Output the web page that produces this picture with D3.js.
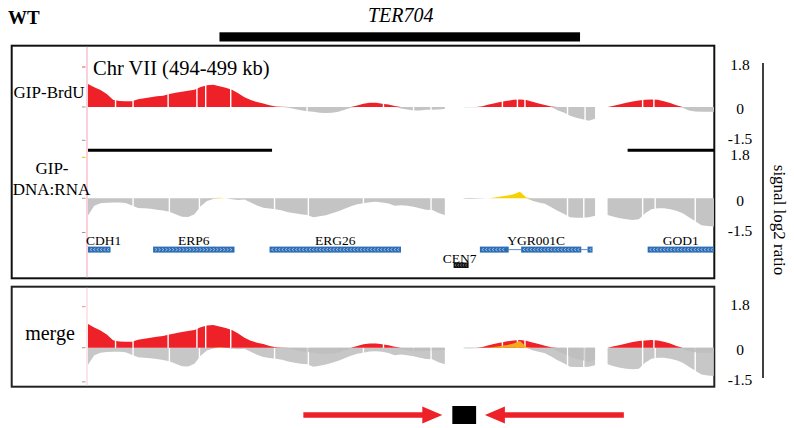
<!DOCTYPE html>
<html>
<head>
<meta charset="utf-8">
<script src="https://cdn.jsdelivr.net/npm/d3@7"></script>
<style>
  body { margin: 0; background: #fff; }
  svg { display: block; }
  text { font-family: "Liberation Serif", "Times New Roman", serif; fill: #000; }
</style>
</head>
<body>
<svg id="chart" width="794" height="428"></svg>
<script>
// ---- Data: Chr VII 494-499 kb, log2 signal ratios in 50 bp bins ----
const binStart = 494.0;   // kb
const binSize = 0.05;     // kb

const brdu = [
  1.04, 0.89, 0.76, 0.58, 0.33, 0.27, 0.26, 0.26, 0.35, 0.39,
  0.44, 0.48, 0.51, 0.58, 0.64, 0.69, 0.73, 0.78, 0.90, 0.98,
  1.00, 0.93, 0.87, 0.78, 0.62, 0.44, 0.31, 0.22, 0.16, 0.08,
  0.02, 0.01, -0.03, -0.09, -0.15, -0.19, -0.22, -0.26, -0.27, -0.26,
  -0.21, -0.12, -0.03, 0.07, 0.15, 0.19, 0.19, 0.15, 0.11, 0.04,
  -0.07, -0.11, -0.16, -0.16, -0.13, -0.13, -0.11, -0.09, null, null,
  -0.01, -0.01, -0.01, 0.03, 0.11, 0.17, 0.23, 0.28, 0.32, 0.34,
  0.31, 0.23, 0.16, 0.09, 0.02, -0.15, -0.25, -0.40, -0.49, -0.55,
  -0.62, -0.53, null, 0.00, 0.06, 0.12, 0.19, 0.25, 0.29, 0.32,
  0.34, 0.32, 0.26, 0.18, 0.08, -0.04, -0.16, -0.20, -0.22, -0.22,
  -0.22
];

const dnaRna = [
  -0.75, -0.33, -0.22, -0.19, -0.18, -0.18, -0.20, -0.31, -0.42, -0.44,
  -0.46, -0.50, -0.54, -0.59, -0.70, -0.81, -0.82, -0.70, -0.35, -0.12,
  -0.03, 0.03, 0.00, -0.04, -0.07, -0.05, -0.18, -0.31, -0.41, -0.45,
  -0.48, -0.53, -0.61, -0.66, -0.70, -0.73, -0.83, -0.79, -0.74, -0.66,
  -0.57, -0.46, -0.35, -0.26, -0.22, -0.17, -0.15, -0.18, -0.23, -0.33,
  -0.30, -0.33, -0.37, -0.44, -0.50, -0.51, -0.64, -0.73, null, null,
  -0.02, -0.03, -0.02, -0.01, 0.00, 0.04, 0.08, 0.12, 0.18, 0.29,
  0.04, -0.11, -0.18, -0.24, -0.39, -0.55, -0.68, -0.83, -0.85, -0.85,
  -0.83, -0.77, null, -0.73, -0.81, -0.88, -0.92, -0.95, -0.92, -0.66,
  -0.48, -0.44, -0.44, -0.48, -0.55, -0.66, -0.83, -1.01, -1.18, -1.22,
  -1.24
];

// Positions (kb) of missing bins, drawn as breaks in each signal
const brduGaps = [494.22, 494.36, 494.64, 494.87, 494.94, 495.14, 495.75, 496.36,
  496.60, 496.74, 497.31, 497.43, 497.49, 497.83, 497.97, 498.43, 498.52];
const dnaRnaGaps = [494.36, 494.65, 494.89, 495.49, 495.76, 496.20, 496.74,
  497.83, 497.96, 498.43, 498.53, 498.85];

// Gene annotation
const geneNames  = ["CDH1", "ERP6", "ERG26", "YGR001C", "GOD1"];
const geneStrand = ["-", "+", "-", "-", "-"];
const geneExons  = [
  [[493.90, 494.18]],
  [[494.52, 495.17]],
  [[495.45, 496.50]],
  [[497.13, 497.36], [497.46, 497.94], [497.99, 498.03]],
  [[498.47, 499.20]]
];
const cenName = "CEN7";
const cenSpan = [496.92, 497.04];

// Region annotations
const terName = "TER704";
const terSpan = [495.05, 497.93];
const markSegments = [[494.00, 495.47], [498.31, 499.00]];
const forkArrows = [[495.72, 496.83], [498.28, 497.17]];   // [tail, tip]
const terBlock = [496.91, 497.10];

const axisTicks = [1.8, 0, -1.5];
const axisTitle = "signal log2 ratio";
const regionTitle = "Chr VII (494-499 kb)";

// ---- Drawing ----
const svg = d3.select("#chart");
const defs = svg.append("defs");

const RED = "#ed2127", GRAY = "#c4c4c4", YELLOW = "#f9d000", ORANGE = "#f6a91c";
const BLUE = "#2b6cb4";

const x = d3.scaleLinear().domain([494, 499]).range([88, 714]);
const xMin = x.range()[0], xMax = x.range()[1];

const tracks = {
  brdu:   d3.scaleLinear().domain([-1.5, 1.8]).range([140.3, 67.0]),
  dnaRna: d3.scaleLinear().domain([-1.5, 1.8]).range([232.5, 157.3]),
  merge:  d3.scaleLinear().domain([-1.5, 1.8]).range([381.9, 306.7])
};

const toPoints = vals => vals.map((v, i) => ({ p: binStart + i * binSize, v }));
const brduPts = toPoints(brdu);
const dnaPts = toPoints(dnaRna);

// clip path that removes thin strips at the missing-bin positions
function gapClip(id, gaps) {
  const cp = defs.append("clipPath").attr("id", id);
  const edges = [x.domain()[0], ...gaps, x.domain()[1]];
  for (let i = 0; i < edges.length - 1; i++) {
    const a = x(edges[i]) + (i === 0 ? 0 : 0.7);
    const b = x(edges[i + 1]) - (i === edges.length - 2 ? 0 : 0.7);
    cp.append("rect").attr("x", a).attr("y", 0).attr("width", Math.max(0, b - a)).attr("height", 428);
  }
  return `url(#${id})`;
}
const brduClip = gapClip("clip-brdu", brduGaps);
const dnaClip = gapClip("clip-dna", dnaRnaGaps);

function drawArea(g, pts, y, sign, color, clip, opacity) {
  const area = d3.area()
    .defined(d => d.v !== null)
    .x(d => x(d.p))
    .y0(y(0))
    .y1(d => y(sign > 0 ? Math.max(0, d.v) : Math.min(0, d.v)));
  g.append("path")
    .datum(pts)
    .attr("d", area)
    .attr("fill", color)
    .attr("fill-opacity", opacity == null ? 1 : opacity)
    .attr("clip-path", clip);
}

// frames
svg.append("rect").attr("x", 11.7).attr("y", 45.7).attr("width", 702.6).attr("height", 232.6)
  .attr("fill", "none").attr("stroke", "#111").attr("stroke-width", 2);
svg.append("rect").attr("x", 11.7).attr("y", 286.7).attr("width", 702.6).attr("height", 100)
  .attr("fill", "none").attr("stroke", "#222").attr("stroke-width", 2);

// left edge marker
svg.append("line").attr("x1", 87).attr("x2", 87).attr("y1", 46.7).attr("y2", 277.5)
  .attr("stroke", "#f6a3b5").attr("stroke-width", 1);
svg.append("line").attr("x1", 87).attr("x2", 87).attr("y1", 287.7).attr("y2", 385.7)
  .attr("stroke", "#f9c9d3").attr("stroke-width", 1);

// GIP-BrdU track
const gB = svg.append("g");
drawArea(gB, brduPts, tracks.brdu, -1, GRAY, brduClip);
drawArea(gB, brduPts, tracks.brdu, 1, RED, brduClip);

// GIP-DNA:RNA track
const gD = svg.append("g");
drawArea(gD, dnaPts, tracks.dnaRna, -1, GRAY, dnaClip);
drawArea(gD, dnaPts, tracks.dnaRna, 1, YELLOW, dnaClip);

// merge track: both signals overlaid
const gM = svg.append("g");
drawArea(gM, dnaPts, tracks.merge, -1, "#bdbdbd", dnaClip, 0.85);
drawArea(gM, brduPts, tracks.merge, -1, "#bdbdbd", brduClip, 0.85);
drawArea(gM, brduPts, tracks.merge, 1, RED, brduClip);
drawArea(gM, dnaPts, tracks.merge, 1, ORANGE, dnaClip);

// small data-range ticks left of each track
const tickColor = { brdu: "#e8505a", dnaRna: "#e6c400", merge: "#f08a90" };
Object.entries(tracks).forEach(([k, y]) => {
  axisTicks.forEach(t => {
    svg.append("line").attr("x1", 82).attr("x2", 85.5)
      .attr("y1", y(t)).attr("y2", y(t))
      .attr("stroke", t === 1.8 ? tickColor[k] : "#9a9a9a").attr("stroke-width", 1);
  });
});

// black region marks under the BrdU track
svg.selectAll(".mark").data(markSegments).join("line")
  .attr("x1", d => x(d[0])).attr("x2", d => x(d[1]))
  .attr("y1", 150.3).attr("y2", 150.3)
  .attr("stroke", "#000").attr("stroke-width", 3);

// genes
const geneY = 246.6, geneH = 6;
const clampX = v => Math.max(xMin, Math.min(xMax, v));
geneNames.forEach((name, gi) => {
  const exons = geneExons[gi];
  const g = svg.append("g");
  const s0 = clampX(x(exons[0][0])), s1 = clampX(x(exons[exons.length - 1][1]));
  // intron lines
  for (let e = 0; e < exons.length - 1; e++) {
    g.append("line").attr("x1", x(exons[e][1])).attr("x2", x(exons[e + 1][0]))
      .attr("y1", geneY + geneH / 2).attr("y2", geneY + geneH / 2)
      .attr("stroke", "#5b8fd0").attr("stroke-width", 1);
  }
  exons.forEach(ex => {
    const a = clampX(x(ex[0])), b = clampX(x(ex[1]));
    g.append("rect").attr("x", a).attr("y", geneY).attr("width", b - a).attr("height", geneH)
      .attr("fill", BLUE);
    // strand chevrons
    const dir = geneStrand[gi] === "+" ? 1 : -1;
    let path = "";
    for (let cx = a + 3; cx < b - 2; cx += 3.4) {
      path += `M${cx - dir * 1},${geneY + 1.6}L${cx + dir * 1},${geneY + geneH / 2}L${cx - dir * 1},${geneY + geneH - 1.6}`;
    }
    g.append("path").attr("d", path).attr("fill", "none")
      .attr("stroke", "#d7e4f5").attr("stroke-width", 0.6);
  });
  const tw = name.length * 7.8;
  const cx = Math.max((s0 + s1) / 2, xMin + tw / 2);
  g.append("text").attr("x", cx).attr("y", 244.5).attr("text-anchor", "middle")
    .attr("font-size", 13.5).text(name);
});

// centromere
svg.append("rect").attr("x", x(cenSpan[0])).attr("y", 262.5)
  .attr("width", x(cenSpan[1]) - x(cenSpan[0])).attr("height", 5.5).attr("fill", "#111");
{
  let p = "";
  for (let cx = x(cenSpan[0]) + 2; cx < x(cenSpan[1]) - 1; cx += 2.6) {
    p += `M${cx + 0.8},${264}L${cx - 0.6},${265.2}L${cx + 0.8},${266.4}`;
  }
  svg.append("path").attr("d", p).attr("fill", "none").attr("stroke", "#bbb").attr("stroke-width", 0.5);
}
svg.append("text").attr("x", x((cenSpan[0] + cenSpan[1]) / 2) - 1.5).attr("y", 262.8)
  .attr("text-anchor", "middle").attr("font-size", 13.5).text(cenName);

// header
svg.append("text").attr("x", 8).attr("y", 23.5).attr("font-size", 19).attr("font-weight", "bold").text("WT");
svg.append("text").attr("x", x((terSpan[0] + terSpan[1]) / 2) + 1).attr("y", 22)
  .attr("text-anchor", "middle").attr("font-size", 20).attr("font-style", "italic").text(terName);
svg.append("rect").attr("x", x(terSpan[0])).attr("y", 32.3)
  .attr("width", x(terSpan[1]) - x(terSpan[0])).attr("height", 9.2).attr("fill", "#000");

svg.append("text").attr("x", 93).attr("y", 74.5).attr("font-size", 20.5).text(regionTitle);

// track names
svg.append("text").attr("x", 49).attr("y", 97.5).attr("text-anchor", "middle").attr("font-size", 17).text("GIP-BrdU");
svg.append("text").attr("x", 52).attr("y", 173.5).attr("text-anchor", "middle").attr("font-size", 17).text("GIP-");
svg.append("text").attr("x", 51.5).attr("y", 194.5).attr("text-anchor", "middle").attr("font-size", 17).text("DNA:RNA");
svg.append("text").attr("x", 50).attr("y", 340).attr("text-anchor", "middle").attr("font-size", 20).text("merge");

// right-hand value labels for each track
const labelShift = { "1.8": -2.5, "0": 2, "-1.5": -2.2 };
Object.values(tracks).forEach(y => {
  axisTicks.forEach(t => {
    svg.append("text").attr("x", 740).attr("y", y(t) + labelShift[String(t)])
      .attr("dy", "0.35em").attr("text-anchor", "middle").attr("font-size", 15.5)
      .text(String(t));
  });
});

svg.append("line").attr("x1", 763).attr("x2", 763).attr("y1", 63).attr("y2", 378)
  .attr("stroke", "#000").attr("stroke-width", 1.5);
svg.append("text").attr("transform", "translate(774,220) rotate(90)")
  .attr("text-anchor", "middle").attr("font-size", 17).text(axisTitle);

// converging forks and termination site
const arrowY = 415;
forkArrows.forEach(([tail, tip]) => {
  const x0 = x(tail), x1 = x(tip), dir = Math.sign(x1 - x0);
  const headLen = 20, headHalf = 8.5;
  svg.append("line").attr("x1", x0).attr("x2", x1 - dir * headLen * 0.8)
    .attr("y1", arrowY).attr("y2", arrowY).attr("stroke", RED).attr("stroke-width", 5.3);
  svg.append("path")
    .attr("d", `M${x1},${arrowY}L${x1 - dir * headLen},${arrowY - headHalf}L${x1 - dir * headLen},${arrowY + headHalf}Z`)
    .attr("fill", RED);
});
svg.append("rect").attr("x", x(terBlock[0])).attr("y", 406)
  .attr("width", x(terBlock[1]) - x(terBlock[0])).attr("height", 18).attr("fill", "#000");
</script>
</body>
</html>
